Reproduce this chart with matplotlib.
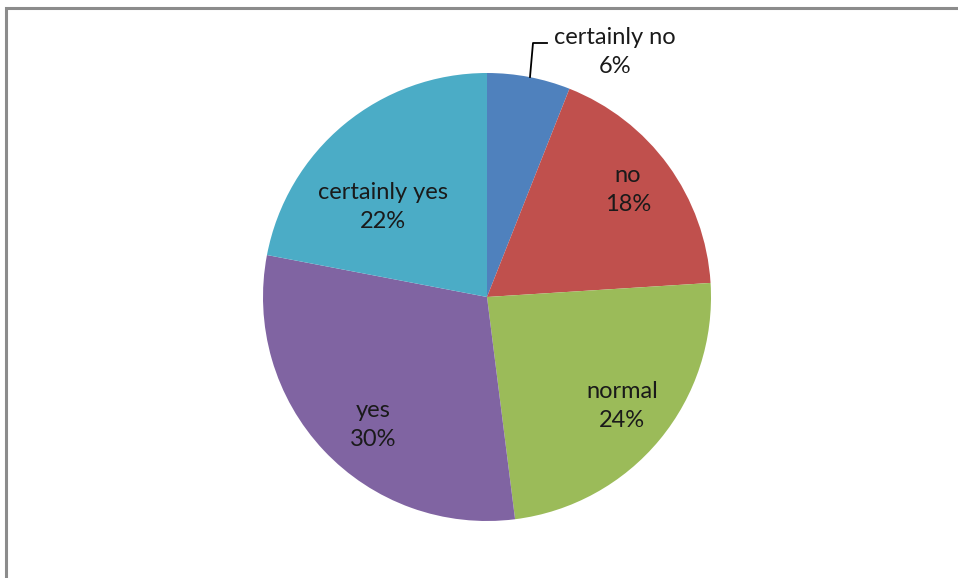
import numpy as np
import matplotlib.pyplot as plt

plt.rcParams['font.family'] = ['Lato', 'DejaVu Sans']

# data
labels = ['certainly no', 'no', 'normal', 'yes', 'certainly yes']
shares = [6, 18, 24, 30, 22]
colors = ['#4F81BD', '#C0504D', '#9BBB59', '#8064A2', '#4BACC6']

# label centres in pixels (image coords, y down)
label_pos = [(615, 52), (628, 190), (622, 406), (373, 425), (383, 207)]

W, H = 958, 578
fig = plt.figure(figsize=(W / 100, H / 100), dpi=100)
ax = fig.add_axes([0, 0, 1, 1])

cx, cy, r = 487, H - 297, 224
ax.pie(shares, colors=colors, startangle=90, counterclock=False,
       center=(cx, cy), radius=r, frame=True)
ax.set_xlim(0, W)
ax.set_ylim(0, H)
ax.set_aspect('equal')
ax.axis('off')

for lab, val, (x, y) in zip(labels, shares, label_pos):
    ax.text(x, H - y, '%s\n%d%%' % (lab, val), ha='center', va='center',
            fontsize=17, color='#1a1a1a', linespacing=1.45)

# leader line for the small slice
ax.plot([530, 533, 547], [H - 77, H - 43, H - 43], color='black', lw=1.3)

# chart frame (top and left edges visible)
ax.plot([6, 6, W], [0, H - 8, H - 8], color='#8c8c8c', lw=2.2,
        solid_joinstyle='miter')

fig.savefig('out.png', dpi=100)
